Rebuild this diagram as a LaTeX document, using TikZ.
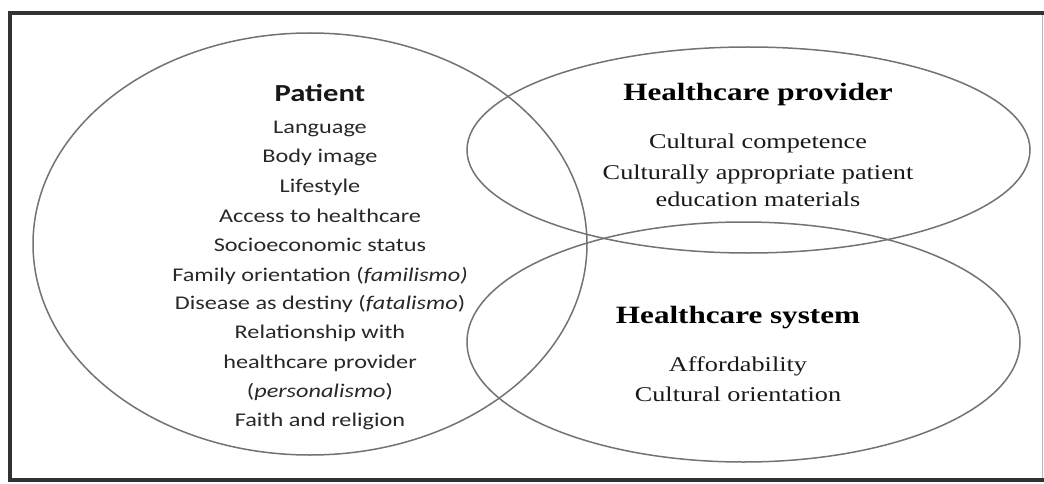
\documentclass[tikz,border=0pt]{standalone}
\usepackage{fontspec}
\usetikzlibrary{shapes.geometric}
\newfontfamily\timesfont[FakeStretch=1.25]{Liberation Serif}
\newfontfamily\califont[FakeStretch=1.25]{Carlito}
\definecolor{ringgray}{RGB}{115,115,115}
\definecolor{framedark}{RGB}{50,50,50}
\definecolor{txtcal}{RGB}{40,40,40}
\definecolor{txttimes}{RGB}{25,25,25}
\tikzset{
  ring/.style={ellipse, draw=ringgray, line width=1.5pt, inner sep=0pt},
  calitem/.style={anchor=base, inner sep=0pt, text=txtcal, font=\califont\fontsize{19.4pt}{23pt}\selectfont},
  caltitle/.style={anchor=base, inner sep=0pt, text=txtcal!60!black, font=\califont\bfseries\fontsize{24.5pt}{29pt}\selectfont},
  timesitem/.style={anchor=base, inner sep=0pt, text=txttimes, font=\timesfont\fontsize{21pt}{25pt}\selectfont},
  timestitle/.style={anchor=base, inner sep=0pt, text=black, font=\timesfont\bfseries\fontsize{24.9pt}{29pt}\selectfont},
}
\begin{document}
\begin{tikzpicture}[x=1pt, y=-1pt]
\useasboundingbox (0,0) rectangle (1044,484);
\fill[white] (0,0) rectangle (1044,484);
% frame
\draw[ringgray!50, line width=1pt] (1042,13) -- (1042,480);
\draw[framedark, line width=3.5pt] (1044,13) -- (10,13) -- (10,480) -- (1044,480);
% circles
\node[ring, minimum width=554pt, minimum height=422pt] (patient) at (310,244) {};
\node[ring, minimum width=563pt, minimum height=206pt] (provider) at (748.5,150) {};
\node[ring, minimum width=553pt, minimum height=240pt] (system) at (743.5,342) {};
% patient text
\node[caltitle] (pt) at (320,102) {Patient};
\node[calitem] (p1) at (320,134) {Language};
\node[calitem] (p2) at (320,163) {Body image};
\node[calitem] (p3) at (320,192) {Lifestyle};
\node[calitem] (p4) at (320,222) {Access to healthcare};
\node[calitem] (p5) at (320,251) {Socioeconomic status};
\node[calitem] (p6) at (320,281) {Family orientation (\textit{familismo)}};
\node[calitem] (p7) at (320,309) {Disease as destiny (\textit{fatalismo})};
\node[calitem] (p8) at (320,338) {Relationship with};
\node[calitem] (p9) at (320,368) {healthcare provider};
\node[calitem] (p10) at (320,397) {(\textit{personalismo})};
\node[calitem] (p11) at (320,426) {Faith and religion};
% provider text
\node[timestitle] (hpt) at (758,101) {Healthcare provider};
\node[timesitem] (hp1) at (758,149) {Cultural competence};
\node[timesitem] (hp2) at (758,179) {Culturally appropriate patient};
\node[timesitem] (hp3) at (758,206) {education materials};
% system text
\node[timestitle] (hst) at (738,323) {Healthcare system};
\node[timesitem] (hs1) at (738,371) {Affordability};
\node[timesitem] (hs2) at (738,401) {Cultural orientation};
\end{tikzpicture}
\end{document}
